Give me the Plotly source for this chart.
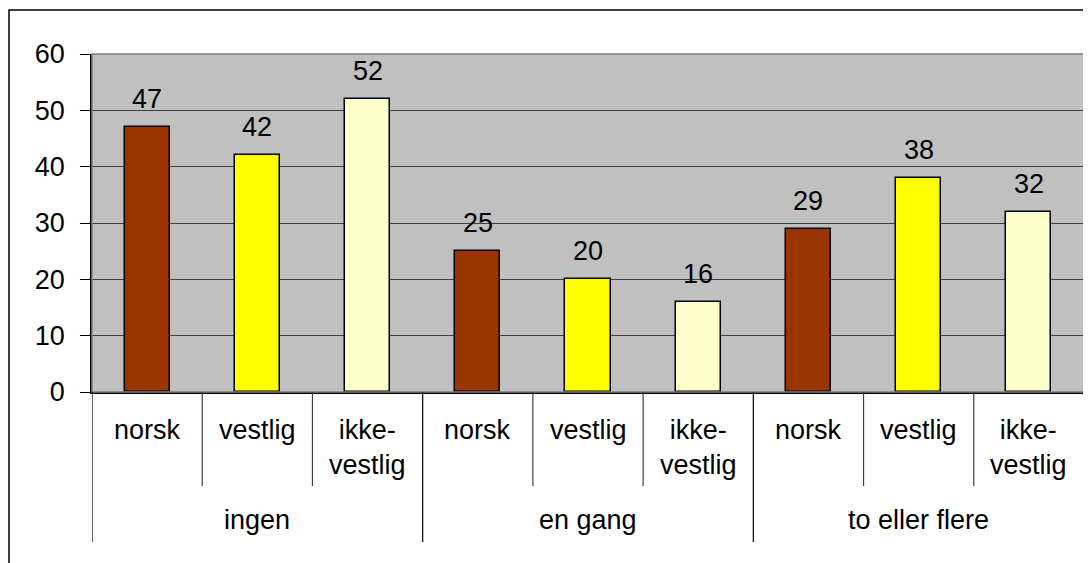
import plotly.graph_objects as go

groups = ["ingen", "en gang", "to eller flere"]
origins = ["norsk", "vestlig", "ikke-<br>vestlig"]
values = [47, 42, 52, 25, 20, 16, 29, 38, 32]
colors_by_origin = ["#993300", "#FFFF00", "#FFFFCC"]
y_ticks = [0, 10, 20, 30, 40, 50, 60]

FONT = "Liberation Sans, Arial, sans-serif"
FS = 27

# page body has an 8px margin, so the figure is offset by 8px
OFF = 8
W, H = 1091 - OFF, 563 - OFF
PL, PR, PT, PB = 92 - OFF, 1084 - OFF, 54 - OFF, 392 - OFF
plot_w = PR - PL
plot_h = PB - PT

n = len(values)
xs = list(range(n))
bar_colors = [colors_by_origin[i % 3] for i in range(n)]

fig = go.Figure()
fig.add_trace(go.Bar(
    x=xs, y=values, width=0.41,
    marker=dict(color=bar_colors, line=dict(color="#000000", width=1.5)),
    hoverinfo="skip", showlegend=False,
))

annotations = []
for i, v in enumerate(values):
    annotations.append(dict(x=i, y=v, xref="x", yref="y", text=str(v), showarrow=False,
                            yanchor="bottom", yshift=11, font=dict(family=FONT, size=FS, color="black")))

def py(px_below):
    return -px_below / plot_h

for i in range(n):
    lab = origins[i % 3]
    annotations.append(dict(x=i, y=py(21), xref="x", yref="paper", text=lab, showarrow=False,
                            yanchor="top", font=dict(family=FONT, size=FS, color="black")))
for g, name in enumerate(groups):
    annotations.append(dict(x=g * 3 + 1, y=py(128), xref="x", yref="paper", text=name, showarrow=False,
                            yanchor="middle", font=dict(family=FONT, size=FS, color="black")))

shapes = []
shapes.append(dict(type="rect", xref="paper", yref="paper", x0=0, x1=1, y0=0, y1=1,
                   line=dict(color="#808080", width=1.5), layer="above"))
for k in range(n + 1):
    xpos = k - 0.5
    if k % 3 == 0:
        shapes.append(dict(type="line", xref="x", yref="paper", x0=xpos, x1=xpos, y0=0, y1=py(150),
                           line=dict(color="#000000", width=1.2)))
    else:
        shapes.append(dict(type="line", xref="x", yref="paper", x0=xpos, x1=xpos, y0=0, y1=py(94),
                           line=dict(color="#404040", width=1.2)))
# outer chart border
shapes.append(dict(type="rect", xref="paper", yref="paper",
                   x0=(9 - OFF - PL) / plot_w, x1=1.2, y0=-1.0, y1=(PB - (10 - OFF)) / plot_h,
                   line=dict(color="#000000", width=1.5)))

fig.update_layout(
    width=W, height=H,
    margin=dict(l=PL, r=W - PR, t=PT, b=H - PB),
    paper_bgcolor="white", plot_bgcolor="#C0C0C0",
    bargap=0,
    xaxis=dict(range=[-0.5, n - 0.5], showticklabels=False, showgrid=False, zeroline=False,
               showline=True, linecolor="#000000", linewidth=1.5, ticks=""),
    yaxis=dict(range=[0, 60], tickvals=y_ticks, ticks="outside", ticklen=10, tickcolor="#000000",
               tickwidth=1.2, showline=True, linecolor="#000000", linewidth=1.5,
               showgrid=True, gridcolor="#404040", gridwidth=1, zeroline=False,
               tickfont=dict(family=FONT, size=FS, color="black"), ticklabelstandoff=10),
    annotations=annotations, shapes=shapes,
    font=dict(family=FONT, size=FS),
)

fig.write_html("out.html")
